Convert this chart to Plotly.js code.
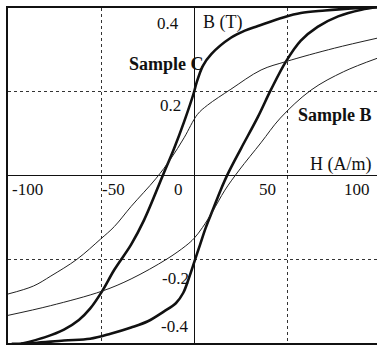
<!DOCTYPE html>
<html>
<head>
<meta charset="utf-8">
<script src="https://cdn.plot.ly/plotly-3.0.1.min.js"></script>
<style>
html,body{margin:0;padding:0;background:#fff;overflow:hidden;width:377px;height:346px;}
#chart{width:381px;height:346px;}
</style>
</head>
<body>
<div id="chart"></div>
<script>
// ---- data ----
// Sample C, descending (upper) branch
var cUpperH = [98, 84, 70, 57, 48, 34, 27, 19.5, 9, 4.5, 1, -0.2, -5.6, -11, -17, -27, -34, -43, -49.5, -56, -62, -70, -80, -93];
var cUpperB = [0.402, 0.399, 0.394, 0.388, 0.378, 0.357, 0.346, 0.329, 0.29, 0.262, 0.22, 0.2, 0.128, 0.064, 0, -0.106, -0.165, -0.225, -0.276, -0.318, -0.345, -0.368, -0.386, -0.402];
// Sample C, ascending (lower) branch
var cLowerH = [-98, -86, -70, -56, -45, -34, -25, -16.5, -10, -6, -3, 0, 3, 6, 10, 14, 18, 25, 34, 41, 49, 57, 66, 77, 89.5, 98];
var cLowerB = [-0.402, -0.4, -0.394, -0.39, -0.378, -0.363, -0.348, -0.325, -0.305, -0.28, -0.245, -0.205, -0.165, -0.125, -0.08, -0.035, 0.005, 0.065, 0.14, 0.205, 0.272, 0.322, 0.355, 0.38, 0.396, 0.402];
// Sample B, descending (upper) branch
var bUpperH = [98, 75, 49, 35.7, 19.5, 7, 1.6, -5.6, -12.7, -20.8, -34, -43, -50.4, -63, -77, -86.4, -100];
var bUpperB = [0.328, 0.304, 0.272, 0.252, 0.206, 0.168, 0.146, 0.09, 0.04, -0.008, -0.074, -0.122, -0.152, -0.2, -0.24, -0.264, -0.283];
// Sample B, ascending (lower) branch
var bLowerH = [-100, -77.3, -49.5, -34, -15, -4.7, -0.2, 4.3, 9.7, 16.3, 24, 35.6, 46, 62.5, 80, 98];
var bLowerB = [-0.334, -0.311, -0.276, -0.247, -0.2, -0.168, -0.15, -0.124, -0.086, -0.035, 0.013, 0.078, 0.137, 0.204, 0.248, 0.28];

// tick labels
var xTickVals = [-100, -50, 0, 50, 100];
var xTickText = ['-100', '-50', '0', '50', '100'];
var yTickVals = [0.4, 0.2, -0.2, -0.4];
var yTickText = ['0.4', '0.2', '-0.2', '-0.4'];
var gridX = [-50, 50];
var gridY = [-0.2, 0.2];

// labels
var labelTexts = ['B (T)', 'H (A/m)', '<b>Sample C</b>', '<b>Sample B</b>'];

// ---- placement (pixels / anchors, not data) ----
var xLabelPlace = [
  {anchor: 'left', dx: 2}, {anchor: 'left', dx: -1}, {anchor: 'right', dx: -10},
  {anchor: 'right', dx: -10}, {anchor: 'right', dx: -9}
];
var xLabelDy = -14;
var yLabelPlace = [
  {dx: -14, dy: -15}, {dx: -12, dy: -14}, {dx: -4, dy: -19}, {dx: -5, dy: 17}
];
var labelPlace = [
  {x: 15.3, y: 0.366, anchor: 'center'},
  {x: 78.7, y: 0.027, anchor: 'center'},
  {x: -15, y: 0.266, anchor: 'center'},
  {x: 75.3, y: 0.144, anchor: 'center'}
];

var font = 'Liberation Serif, Times New Roman, serif';

var traces = [
  {x: cUpperH, y: cUpperB, mode: 'lines', line: {color: '#111', width: 2.6, shape: 'spline', smoothing: 1}},
  {x: cLowerH, y: cLowerB, mode: 'lines', line: {color: '#111', width: 2.6, shape: 'spline', smoothing: 1}},
  {x: bUpperH, y: bUpperB, mode: 'lines', line: {color: '#222', width: 1, shape: 'spline', smoothing: 1}},
  {x: bLowerH, y: bLowerB, mode: 'lines', line: {color: '#222', width: 1, shape: 'spline', smoothing: 1}}
];

var annotations = [];
xTickVals.forEach(function (v, i) {
  annotations.push({
    x: v, y: 0, xref: 'x', yref: 'y', text: xTickText[i], showarrow: false,
    xanchor: xLabelPlace[i].anchor, yanchor: 'middle',
    xshift: xLabelPlace[i].dx, yshift: xLabelDy,
    font: {family: font, size: 17, color: '#111'}
  });
});
yTickVals.forEach(function (v, i) {
  annotations.push({
    x: 0, y: v, xref: 'x', yref: 'y', text: yTickText[i], showarrow: false,
    xanchor: 'right', yanchor: 'middle',
    xshift: yLabelPlace[i].dx, yshift: yLabelPlace[i].dy,
    font: {family: font, size: 17, color: '#111'}
  });
});
labelTexts.forEach(function (t, i) {
  annotations.push({
    x: labelPlace[i].x, y: labelPlace[i].y, xref: 'x', yref: 'y', text: t, showarrow: false,
    xanchor: labelPlace[i].anchor, yanchor: 'middle',
    font: {family: font, size: 18, color: '#111'}
  });
});

var layout = {
  width: 381, height: 346,
  margin: {l: 8, r: 0, t: 8, b: 3, pad: 0},
  paper_bgcolor: '#fff', plot_bgcolor: '#fff',
  showlegend: false,
  xaxis: {
    range: [-100, 100], showticklabels: false, ticks: '',
    tickvals: gridX, showgrid: true, gridcolor: '#333', gridwidth: 1, griddash: 'dot',
    zeroline: true, zerolinecolor: '#111', zerolinewidth: 1,
    showline: true, linecolor: '#111', linewidth: 2, mirror: true,
    fixedrange: true
  },
  yaxis: {
    range: [-0.4, 0.4], showticklabels: false, ticks: '',
    tickvals: gridY, showgrid: true, gridcolor: '#333', gridwidth: 1, griddash: 'dot',
    zeroline: true, zerolinecolor: '#111', zerolinewidth: 1,
    showline: true, linecolor: '#111', linewidth: 2, mirror: false,
    fixedrange: true
  },
  annotations: annotations
};

Plotly.newPlot('chart', traces, layout, {staticPlot: true, displayModeBar: false});
</script>
</body>
</html>
